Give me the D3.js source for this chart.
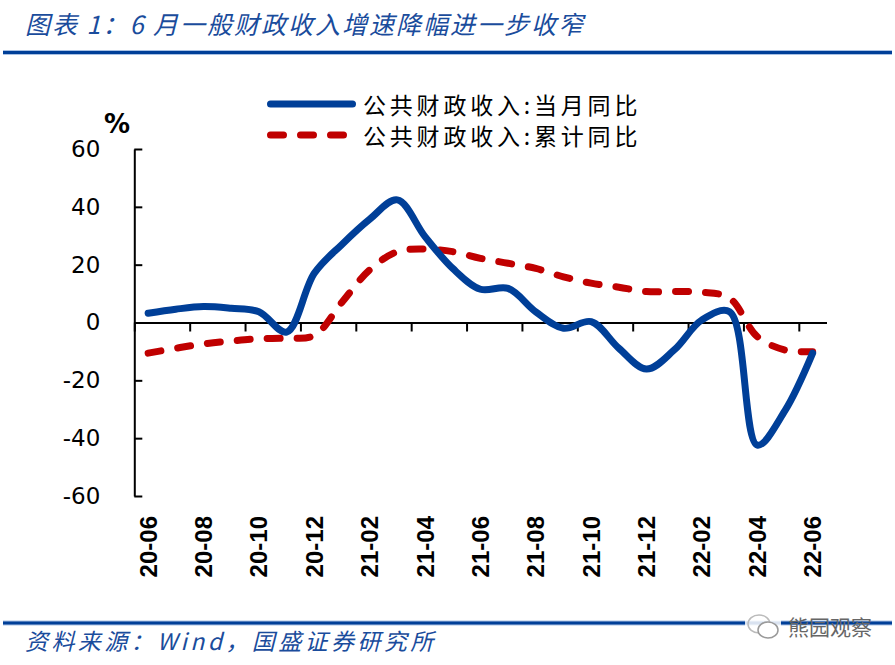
<!DOCTYPE html>
<html>
<head>
<meta charset="utf-8">
<script src="https://cdnjs.cloudflare.com/ajax/libs/d3/7.8.5/d3.min.js"></script>
<style>
  body { margin: 0; background: #fff; }
  svg { display: block; }
</style>
</head>
<body>
<div id="chart"></div>
<script>
// Data
var months = ["20-06", "20-07", "20-08", "20-09", "20-10", "20-11", "20-12",
  "21-01", "21-02", "21-03", "21-04", "21-05", "21-06", "21-07", "21-08",
  "21-09", "21-10", "21-11", "21-12", "22-01", "22-02", "22-03", "22-04",
  "22-05", "22-06"];
var monthlyYoY = [3.2, 4.6, 5.5, 4.9, 3.7, -3.3, 17.0, 27.0, 35.7, 42.4, 29.7,
  18.7, 11.5, 11.8, 3.7, -2.0, 0.3, -8.9, -16.1, -9.5, 0.9, 3.7, -42.4, -30.5, -10.6];
var cumulativeYoY = [-10.6, -8.9, -7.4, -6.4, -5.6, -5.4, -4.5, 7.0, 18.2, 24.5,
  25.4, 24.5, 22.2, 20.5, 18.7, 15.8, 13.6, 12.2, 10.7, 10.7, 10.5, 8.4, -4.9, -9.5, -10.1];
var yTicks = [-60, -40, -20, 0, 20, 40, 60];
var labelMonths = months.filter(function(d, i) { return i % 2 === 0; });
var seriesNames = ["公共财政收入:当月同比", "公共财政收入:累计同比"];

var svgWidth = 895;
var svgHeight = 665;

var margin = { top: 149, left: 134.3 };
var width = 692.2;
var height = 347;

var blue = "#003F98";
var red = "#C00000";

var svg = d3.select("#chart")
  .append("svg")
  .attr("width", svgWidth)
  .attr("height", svgHeight);

// Title and rules
// ==============================
svg.append("text")
  .attr("x", 25)
  .attr("y", 23)
  .attr("dominant-baseline", "central")
  .style("font-family", "'Noto Sans CJK SC', sans-serif")
  .style("font-size", "25px")
  .style("font-style", "italic")
  .style("letter-spacing", "2px")
  .style("fill", "#1A4C9C")
  .text("图表 1：6 月一般财政收入增速降幅进一步收窄");

svg.append("rect").attr("x", 3).attr("y", 50).attr("width", 889).attr("height", 5).attr("fill", "#A9C1E3");
svg.append("rect").attr("x", 3).attr("y", 51).attr("width", 889).attr("height", 3).attr("fill", blue);

svg.append("rect").attr("x", 3).attr("y", 620.5).attr("width", 889).attr("height", 5).attr("fill", "#A9C1E3");
svg.append("rect").attr("x", 3).attr("y", 621.5).attr("width", 889).attr("height", 3).attr("fill", blue);

svg.append("text")
  .attr("x", 25)
  .attr("y", 640)
  .attr("dominant-baseline", "central")
  .style("font-family", "'Noto Sans CJK SC', sans-serif")
  .style("font-size", "23px")
  .style("font-style", "italic")
  .style("letter-spacing", "3.4px")
  .style("fill", "#1A4C9C")
  .text("资料来源：Wind，国盛证券研究所");

// watermark
var wm = svg.append("g").attr("transform", "translate(745, 612)");
wm.append("rect").attr("x", 0).attr("y", 0).attr("width", 36).attr("height", 28).attr("fill", "#fff").attr("opacity", 0.85);
wm.append("ellipse").attr("cx", 14).attr("cy", 12).attr("rx", 11).attr("ry", 9)
  .attr("fill", "none").attr("stroke", "#bbb").attr("stroke-width", 1.5);
wm.append("ellipse").attr("cx", 23).attr("cy", 18).attr("rx", 10).attr("ry", 8)
  .attr("fill", "#fff").attr("stroke", "#999").attr("stroke-width", 1.5);
wm.append("text")
  .attr("x", 43)
  .attr("y", 14)
  .attr("dominant-baseline", "central")
  .style("font-family", "'Noto Sans CJK SC', sans-serif")
  .style("font-size", "21px")
  .style("fill", "#666")
  .text("熊园观察");

var chartGroup = svg.append("g")
  .attr("transform", `translate(${margin.left}, ${margin.top})`);

// Scales
// ==============================
var xBand = d3.scaleBand()
  .domain(months)
  .range([0, width]);

var xIndex = d3.scaleLinear()
  .domain([0, months.length])
  .range([0, width]);

var yLinearScale = d3.scaleLinear()
  .domain([-60, 60])
  .range([height, 0]);

var xCenter = function(d) { return xBand(d) + xBand.bandwidth() / 2; };

// Axes
// ==============================
var leftAxis = d3.axisLeft(yLinearScale)
  .tickValues(yTicks)
  .tickSizeInner(-8)
  .tickSizeOuter(0)
  .tickPadding(34)
  .tickFormat(d => String(d));

var yAxisG = chartGroup.append("g")
  .call(leftAxis);
yAxisG.selectAll("path, line").attr("stroke", "#000").attr("stroke-width", 2);
yAxisG.selectAll("text")
  .style("font-family", "'DejaVu Sans', sans-serif")
  .style("font-size", "23px")
  .style("fill", "#000");

var bottomAxis = d3.axisBottom(xIndex)
  .tickValues(d3.range(0, months.length, 2))
  .tickSizeInner(9)
  .tickSizeOuter(0)
  .tickFormat("");

var xAxisG = chartGroup.append("g")
  .attr("transform", `translate(0, ${yLinearScale(0)})`)
  .call(bottomAxis);
xAxisG.selectAll("path, line").attr("stroke", "#000").attr("stroke-width", 2);

// rotated month labels
chartGroup.selectAll(".xlabel")
  .data(labelMonths)
  .enter()
  .append("text")
  .attr("class", "xlabel")
  .attr("transform", d => `translate(${xCenter(d)}, ${height + 20}) rotate(-90)`)
  .attr("text-anchor", "end")
  .attr("dominant-baseline", "central")
  .style("font-family", "'Liberation Sans', Arial, sans-serif")
  .style("font-size", "24px")
  .style("font-weight", "bold")
  .style("fill", "#000")
  .text(d => d);

// unit label
svg.append("text")
  .attr("x", 117)
  .attr("y", 124)
  .attr("text-anchor", "middle")
  .attr("dominant-baseline", "central")
  .style("font-family", "'DejaVu Sans', sans-serif")
  .style("font-size", "26px")
  .style("font-weight", "bold")
  .style("fill", "#000")
  .text("%");

// Lines
// ==============================
var lineGen = d3.line()
  .x(d => xCenter(d.m))
  .y(d => yLinearScale(d.v))
  .curve(d3.curveCatmullRom.alpha(0.5));

var cumData = months.map((m, i) => ({ m: m, v: cumulativeYoY[i] }));
var monData = months.map((m, i) => ({ m: m, v: monthlyYoY[i] }));

chartGroup.append("path")
  .datum(cumData)
  .attr("d", lineGen)
  .attr("fill", "none")
  .attr("stroke", red)
  .attr("stroke-width", 7)
  .attr("stroke-linecap", "round")
  .attr("stroke-dasharray", "13,17");

chartGroup.append("path")
  .datum(monData)
  .attr("d", lineGen)
  .attr("fill", "none")
  .attr("stroke", blue)
  .attr("stroke-width", 7)
  .attr("stroke-linecap", "round")
  .attr("stroke-linejoin", "round");

// Legend
// ==============================
var legend = svg.append("g");
var legendRows = legend.selectAll("g")
  .data(seriesNames)
  .enter()
  .append("g")
  .attr("transform", (d, i) => `translate(0, ${104 + i * 31})`);

legendRows.append("line")
  .attr("x1", 270.5)
  .attr("x2", d => d === seriesNames[0] ? 352.5 : 344)
  .attr("y1", 0)
  .attr("y2", 0)
  .attr("stroke", (d, i) => i === 0 ? blue : red)
  .attr("stroke-width", 7)
  .attr("stroke-linecap", "round")
  .attr("stroke-dasharray", (d, i) => i === 0 ? null : "13,17");

legendRows.append("text")
  .attr("x", 363)
  .attr("y", 0)
  .attr("dominant-baseline", "central")
  .style("font-family", "'Noto Sans CJK SC', sans-serif")
  .style("font-size", "23px")
  .style("letter-spacing", "3.8px")
  .style("fill", "#000")
  .text(d => d);
</script>
</body>
</html>
